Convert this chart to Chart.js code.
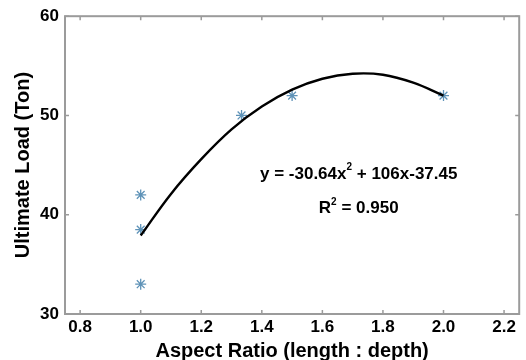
<!DOCTYPE html>
<html>
<head>
<meta charset="utf-8">
<script src="https://cdn.jsdelivr.net/npm/chart.js@4/dist/chart.umd.min.js"></script>
<style>
  body { margin: 0; background: #fff; }
  #wrap { width: 526px; height: 360px; position: relative; }
</style>
</head>
<body>
<div id="wrap"><canvas id="chart"></canvas></div>
<script>
// measured samples (aspect ratio vs ultimate load)
const ratio = [1.0, 1.0, 1.0, 1.333, 1.5, 2.0];
const load = [42, 38.5, 33, 50, 52, 52];

// fitted curve
const fitX = [1.0, 1.1, 1.2, 1.3, 1.4, 1.5, 1.6, 1.7, 1.8, 1.9, 2.0];
const fitY = [37.9, 42.1, 45.6, 48.6, 50.9, 52.6, 53.7, 54.2, 54.1, 53.3, 52.0];

const xTicks = [0.8, 1.0, 1.2, 1.4, 1.6, 1.8, 2.0, 2.2];
const yTicks = [30, 40, 50, 60];

const eqParts = ["y = -30.64x", "2", " + 106x-37.45"];
const r2Parts = ["R", "2", " = 0.950"];

const FONT = "Arial, 'Liberation Sans', sans-serif";
const AXIS_GREY = "#9b9b9b";

// grey box with inward ticks on all four sides
const framePlugin = {
  id: "frame",
  afterDatasetsDraw(chart) {
    const { ctx, chartArea: a, scales } = chart;
    ctx.save();
    ctx.strokeStyle = AXIS_GREY;
    ctx.lineWidth = 2;
    ctx.strokeRect(a.left, a.top, a.right - a.left, a.bottom - a.top);
    ctx.lineWidth = 1.5;
    ctx.beginPath();
    xTicks.forEach(v => {
      const px = scales.x.getPixelForValue(v);
      ctx.moveTo(px, a.bottom); ctx.lineTo(px, a.bottom - 4);
      ctx.moveTo(px, a.top); ctx.lineTo(px, a.top + 4);
    });
    yTicks.forEach(v => {
      const py = scales.y.getPixelForValue(v);
      ctx.moveTo(a.left, py); ctx.lineTo(a.left + 4, py);
      ctx.moveTo(a.right, py); ctx.lineTo(a.right - 4, py);
    });
    ctx.stroke();
    ctx.restore();
  }
};

// text with a small raised "2"
function drawSup(ctx, parts, cx, cy) {
  const big = "bold 17px " + FONT, small = "bold 10px " + FONT;
  ctx.font = big;
  const w0 = ctx.measureText(parts[0]).width;
  const w2 = ctx.measureText(parts[2]).width;
  ctx.font = small;
  const w1 = ctx.measureText(parts[1]).width;
  let x = cx - (w0 + w1 + w2) / 2;
  ctx.textAlign = "left";
  ctx.textBaseline = "middle";
  ctx.fillStyle = "#000";
  ctx.font = big;
  ctx.fillText(parts[0], x, cy);
  x += w0;
  ctx.font = small;
  ctx.fillText(parts[1], x, cy - 7);
  x += w1;
  ctx.font = big;
  ctx.fillText(parts[2], x, cy);
}

const notePlugin = {
  id: "notes",
  afterDatasetsDraw(chart) {
    const { ctx, scales } = chart;
    ctx.save();
    drawSup(ctx, eqParts, scales.x.getPixelForValue(1.72), scales.y.getPixelForValue(44.05));
    drawSup(ctx, r2Parts, scales.x.getPixelForValue(1.72), scales.y.getPixelForValue(40.6));
    ctx.restore();
  }
};

new Chart(document.getElementById("chart"), {
  data: {
    datasets: [
      {
        type: "line",
        data: fitX.map((x, i) => ({ x: x, y: fitY[i] })),
        borderColor: "#000",
        borderWidth: 2.4,
        pointRadius: 0,
        tension: 0.4,
        fill: false
      },
      {
        type: "scatter",
        data: ratio.map((x, i) => ({ x: x, y: load[i] })),
        pointStyle: "star",
        pointRadius: 5.5,
        borderColor: "#5f93b8",
        borderWidth: 1.3
      }
    ]
  },
  options: {
    responsive: true,
    maintainAspectRatio: false,
    animation: false,
    layout: { padding: { top: 14, right: 2, left: 0, bottom: 0 } },
    plugins: { legend: { display: false }, tooltip: { enabled: false } },
    scales: {
      x: {
        type: "linear",
        min: 0.75,
        max: 2.25,
        afterBuildTicks: s => { s.ticks = xTicks.map(v => ({ value: v })); },
        afterFit: s => { s.height = 46; },
        grid: { display: false, drawTicks: false },
        border: { display: false },
        ticks: {
          padding: 3,
          color: "#000",
          font: { family: FONT, size: 17, weight: "bold" },
          callback: v => v.toFixed(1)
        },
        title: {
          display: true,
          text: "Aspect Ratio (length : depth)",
          color: "#000",
          font: { family: FONT, size: 20, weight: "bold" },
          padding: { top: 0, bottom: -3 }
        }
      },
      y: {
        min: 30,
        max: 60,
        afterBuildTicks: s => { s.ticks = yTicks.map(v => ({ value: v })); },
        afterFit: s => { s.width = 65; },
        grid: { display: false, drawTicks: false },
        border: { display: false },
        ticks: {
          padding: 6,
          color: "#000",
          font: { family: FONT, size: 17, weight: "bold" }
        },
        title: {
          display: true,
          text: "Ultimate Load (Ton)",
          color: "#000",
          font: { family: FONT, size: 20, weight: "bold" },
          padding: { top: 11, bottom: 0 }
        }
      }
    }
  },
  plugins: [framePlugin, notePlugin]
});
</script>
</body>
</html>
